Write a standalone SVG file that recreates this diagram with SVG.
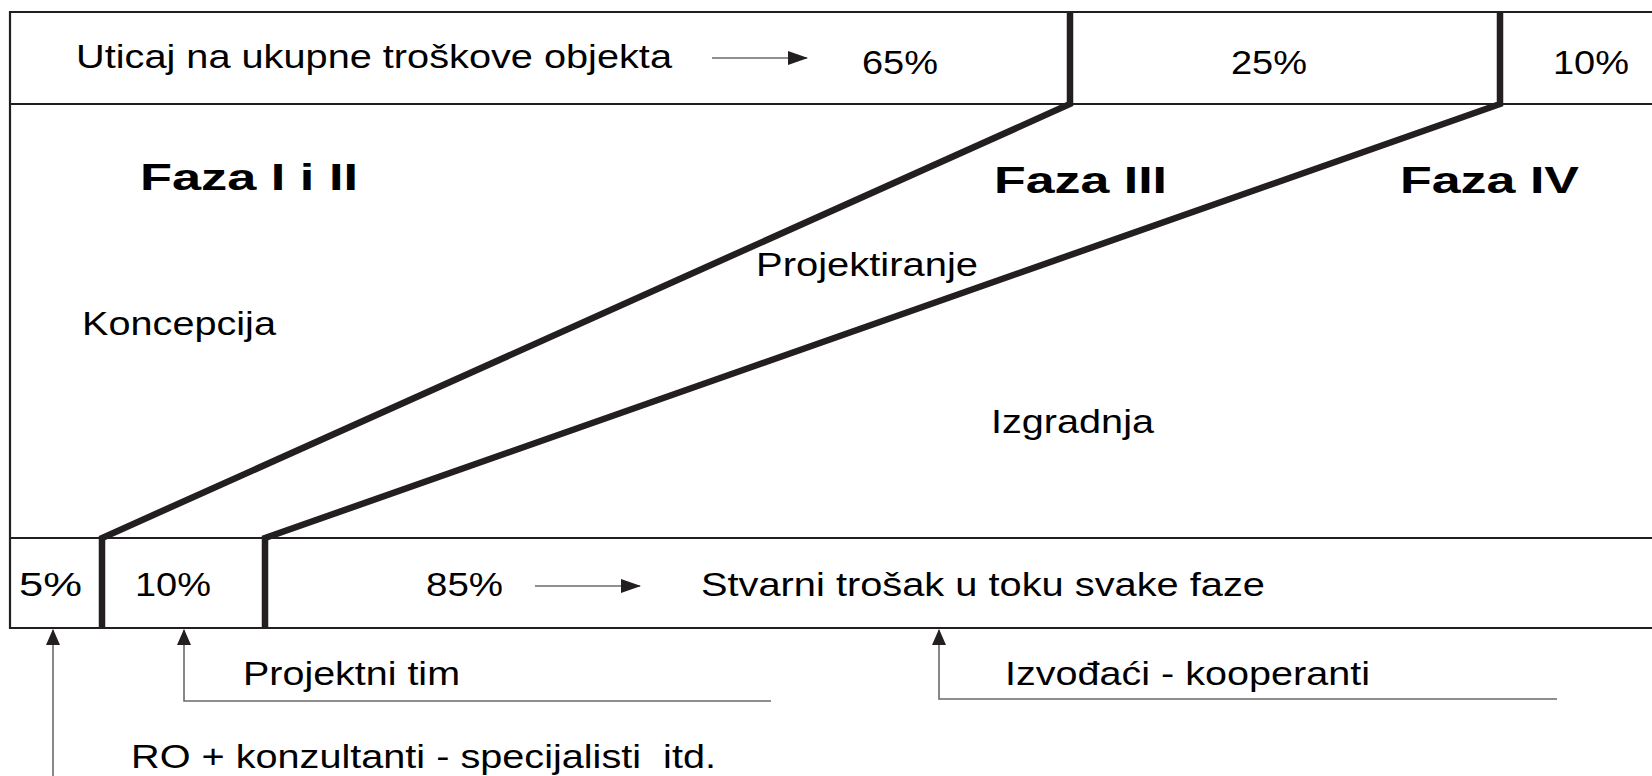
<svg xmlns="http://www.w3.org/2000/svg" width="1652" height="776" viewBox="0 0 1652 776">
<style>
.t{font-family:"Liberation Sans",Arial,sans-serif;font-size:33px;fill:#000;white-space:pre}
.b{font-family:"Liberation Sans",Arial,sans-serif;font-size:37px;font-weight:bold;fill:#000}
.frame{fill:none;stroke:#231f20;stroke-width:2.2}
.thick{fill:none;stroke:#231f20;stroke-width:6.5;stroke-linejoin:miter}
.conn{fill:none;stroke:#6a6a6a;stroke-width:1.6}
</style>
<defs>
<marker id="ah" viewBox="0 0 16 14" refX="15" refY="7" markerWidth="16" markerHeight="14" markerUnits="userSpaceOnUse" orient="auto">
<path d="M0,0 L16,7 L0,14 Z" fill="#231f20"/>
</marker>
<marker id="ahs" viewBox="0 0 20 14" refX="19" refY="7" markerWidth="20" markerHeight="14" markerUnits="userSpaceOnUse" orient="auto">
<path d="M0,0 L20,7 L0,14 Z" fill="#231f20"/>
</marker>
</defs>
<rect width="1652" height="776" fill="#fff"/>
<g id="frame">
<path class="frame" d="M1652,12 H10 V628 H1652 M10,104 H1652 M10,538 H1652"/>
<polyline class="thick" points="1070,12 1070,104 102,538 102,628"/>
<polyline class="thick" points="1500,12 1500,104 265,538 265,628"/>
</g>
<g id="connectors">
<line class="conn" x1="712" y1="58" x2="807" y2="58" marker-end="url(#ahs)"/>
<line class="conn" x1="535" y1="586" x2="640" y2="586" marker-end="url(#ahs)"/>
<line class="conn" x1="53" y1="776" x2="53" y2="630" marker-end="url(#ah)"/>
<polyline class="conn" points="771,701 184,701 184,630" marker-end="url(#ah)"/>
<polyline class="conn" points="1557,699 939,699 939,630" marker-end="url(#ah)"/>
</g>
<g id="top-row">
<text class="t" x="76" y="68" textLength="596" lengthAdjust="spacingAndGlyphs">Uticaj na ukupne troškove objekta</text>
<text class="t" x="862" y="74" textLength="76" lengthAdjust="spacingAndGlyphs">65%</text>
<text class="t" x="1231" y="74" textLength="76" lengthAdjust="spacingAndGlyphs">25%</text>
<text class="t" x="1553" y="74" textLength="76" lengthAdjust="spacingAndGlyphs">10%</text>
</g>
<g id="phase-1-2">
<text class="b" x="140" y="190" textLength="218" lengthAdjust="spacingAndGlyphs">Faza I i II</text>
<text class="t" x="82" y="335" textLength="194" lengthAdjust="spacingAndGlyphs">Koncepcija</text>
</g>
<g id="phase-3">
<text class="b" x="994" y="193" textLength="173" lengthAdjust="spacingAndGlyphs">Faza III</text>
<text class="t" x="756" y="276" textLength="222" lengthAdjust="spacingAndGlyphs">Projektiranje</text>
</g>
<g id="phase-4">
<text class="b" x="1400" y="193" textLength="179" lengthAdjust="spacingAndGlyphs">Faza IV</text>
<text class="t" x="991" y="433" textLength="163" lengthAdjust="spacingAndGlyphs">Izgradnja</text>
</g>
<g id="bottom-row">
<text class="t" x="19" y="596" textLength="63" lengthAdjust="spacingAndGlyphs">5%</text>
<text class="t" x="135" y="596" textLength="76" lengthAdjust="spacingAndGlyphs">10%</text>
<text class="t" x="426" y="596" textLength="77" lengthAdjust="spacingAndGlyphs">85%</text>
<text class="t" x="701" y="596" textLength="564" lengthAdjust="spacingAndGlyphs">Stvarni trošak u toku svake faze</text>
</g>
<g id="labels">
<text class="t" x="243" y="685" textLength="217" lengthAdjust="spacingAndGlyphs">Projektni tim</text>
<text class="t" x="1005" y="685" textLength="365" lengthAdjust="spacingAndGlyphs">Izvođaći - kooperanti</text>
<text class="t" x="131" y="768" textLength="585" lengthAdjust="spacingAndGlyphs" xml:space="preserve">RO + konzultanti - specijalisti  itd.</text>
</g>
</svg>
